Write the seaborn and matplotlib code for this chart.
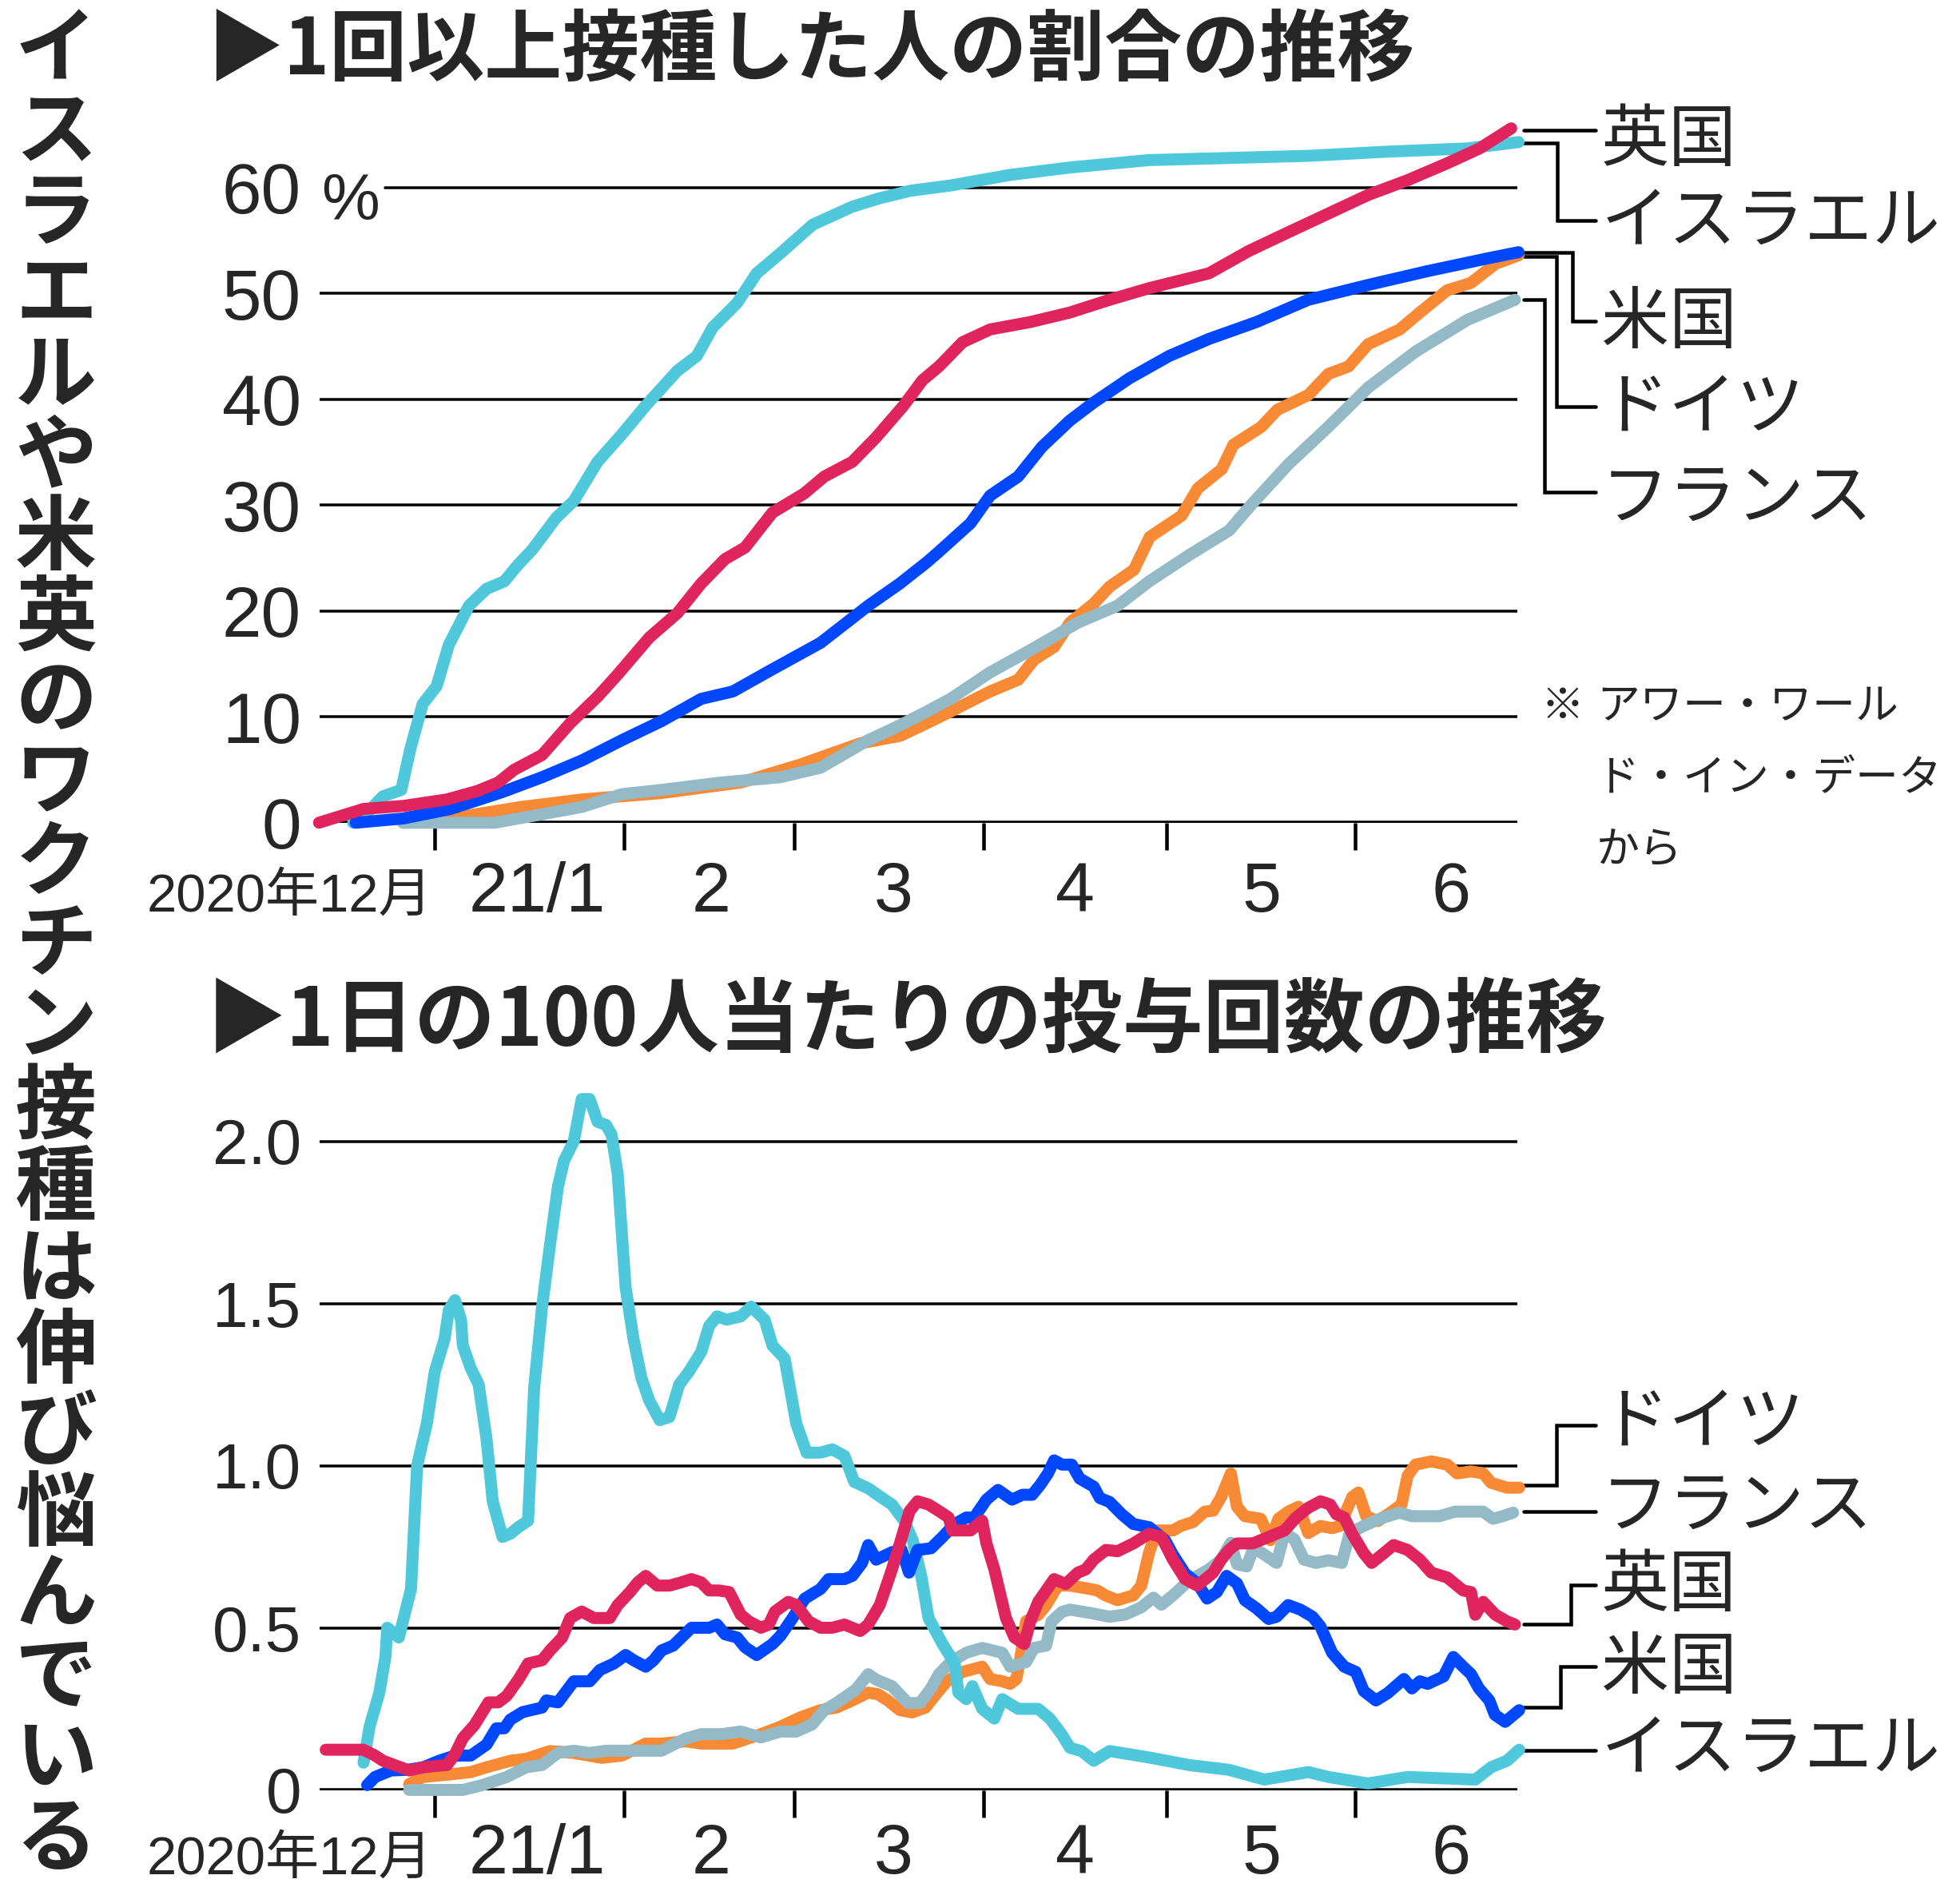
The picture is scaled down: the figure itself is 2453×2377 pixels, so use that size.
import matplotlib
matplotlib.use('Agg')
import matplotlib.pyplot as plt
import pandas as pd
import seaborn as sns

# ---------------- data (days since 2020-12-01) ----------------
# Panel 1: share of people with at least one dose (%)
ISR_TOP_DAY = [17.6, 20, 22.5, 25.5, 27, 29, 31.3, 33.3, 36.6, 39.5, 42.4, 44.7, 47, 50.9, 53.8, 57.7, 61.7,
               65.6, 70.8, 74, 76.6, 80.6, 83.8, 87.7, 93, 99.5, 104, 109, 115.6, 125.4, 135.2, 148.2, 161.3,
               174.3, 187.4, 200.4, 208.8]
ISR_TOP_VAL = [0, 1.0, 2.5, 3.1, 7, 11.2, 12.9, 16.8, 20.5, 22.1, 22.8, 24.4, 25.8, 28.8, 30.4, 34.1, 36.7,
               39.4, 42.7, 44.1, 46.8, 49.1, 51.9, 53.8, 56.5, 58.2, 59.0, 59.7, 60.2, 61.2, 61.9, 62.6, 62.8,
               63.0, 63.4, 63.7, 64.3]
UK_TOP_DAY = [12, 19.3, 26, 33, 38, 41.4, 44, 48.6, 53.2, 57.7, 61, 66.2, 70.8, 74.7, 78.6, 81.9, 86.4, 91.6,
              94.9, 99.5, 103.4, 107.9, 111, 113.7, 117.6, 122.1, 128.7, 135.2, 141.7, 148.2, 158, 164.5, 171.1,
              176.3, 184.1, 190.6, 197.1, 202.4, 207.6]
UK_TOP_VAL = [0, 1.3, 1.6, 2.2, 3.0, 3.8, 5.0, 6.4, 9.4, 11.9, 14.0, 17.5, 19.8, 22.6, 24.9, 26.0, 29.3, 31.1,
              32.7, 34.1, 36.4, 39.4, 41.8, 43.1, 45.4, 46.6, 47.3, 48.2, 49.4, 50.5, 51.9, 54.0, 55.8,
              57.2, 59.3, 60.7, 62.3, 63.7, 65.6]
US_TOP_DAY = [18, 25.8, 33.6, 42.1, 48.6, 55.2, 61.7, 68.2, 74.7, 79.9, 86.4, 94.3, 102.1, 107.3, 111.7, 113.7,
              118.9, 122.1, 126.7, 130.6, 135.2, 139.1, 145, 151.5, 158, 165.8, 174.3, 184.1, 193.8, 203.6, 208.8]
US_TOP_VAL = [0, 0.4, 1.3, 2.9, 4.3, 5.9, 7.8, 9.6, 11.7, 12.4, 14.5, 17.0, 20.5, 22.6, 24.6, 25.6,
              28.3, 30.9, 32.7, 35.5, 38.0, 39.7, 42.0, 44.1, 45.7, 47.3, 49.4, 50.8, 52.1, 53.3, 53.9]
DE_TOP_DAY = [25.8, 35.6, 45.3, 55.2, 68.2, 81.2, 91, 100.8, 107.3, 111, 115.6, 122.1, 126.7, 129.3, 132.6,
              135.2, 139.1, 141.7, 145.7, 148.3, 153.5, 156.2, 160.1, 162, 166.6, 169.2, 174.3, 177.6, 180.9,
              184.1, 189.3, 192.6, 197.1, 201, 205, 208.8]
DE_TOP_VAL = [0, 0.6, 1.5, 2.2, 2.8, 3.8, 5.5, 7.5, 8.2, 9.2, 10.5, 12.4, 13.5, 15.4, 16.6,
              18.9, 20.7, 22.3, 23.9, 27.0, 29.0, 31.6, 33.4, 35.7, 37.4, 39.0, 40.4, 42.4, 43.1,
              45.2, 46.6, 48.2, 50.3, 51.0, 52.8, 53.6]
FR_TOP_DAY = [25.8, 40.8, 48.6, 55.2, 61.7, 68.2, 78, 87.7, 94.3, 102.1, 107.3, 111.7, 115.6, 122.1, 128.7,
              136.5, 143, 148.2, 154.8, 161.3, 165.2, 171.1, 177.6, 184.1, 191.9, 200.4, 208.2]
FR_TOP_VAL = [0, 0, 0.8, 1.5, 2.7, 3.1, 3.8, 4.3, 5.2, 7.8, 9.2, 10.5, 11.7, 14.2, 16.3,
              18.9, 20.5, 22.8, 25.3, 27.6, 30.2, 33.9, 37.4, 41.1, 44.5, 47.5, 49.4]

# Panel 2: daily doses per 100 people
ISR_BOT_DAY = [19.3, 20.3, 21.9, 22.9, 23.2, 25.1, 27.1, 28.1, 29.7, 31, 32.6, 33.3, 34.3, 35.3, 35.6, 36.9,
               38.2, 39.5, 40.5, 42.1, 43.4, 44.7, 46.3, 47.3, 48.6, 49.9, 51.2, 52.2, 53.8, 55.1, 56.4, 57.7,
               59.1, 60, 61, 62.3, 63.6, 64.9, 66.2, 67.9, 69.5, 71.1, 72.7, 74.7, 76, 77.3, 78.9, 81.2, 82.9,
               85.1, 86.4, 88.4, 90.3, 92, 94.3, 96.2, 98.2, 99.8, 102.1, 104.4, 106, 108, 109.4, 110.8, 112,
               114.3, 116.3, 116.9, 118.2, 119.2, 120.8, 122.8, 124.1, 126.7, 130, 131.9, 133.9, 135.2, 137.1,
               139.1, 141.7, 145, 148.2, 154.7, 161.3, 167.1, 174.3, 177.6, 184.1, 190.6, 201.7, 204.3, 206.9,
               208.9]
ISR_BOT_VAL = [0.084, 0.195, 0.30, 0.41, 0.50, 0.47, 0.62, 1.0, 1.13, 1.29, 1.39, 1.48, 1.51, 1.45, 1.37, 1.30,
               1.25, 1.08, 0.89, 0.78, 0.79, 0.81, 0.83, 1.24, 1.49, 1.68, 1.86, 1.94, 2.0, 2.13, 2.13, 2.06,
               2.05, 2.02, 1.90, 1.55, 1.39, 1.27, 1.20, 1.14, 1.15, 1.25, 1.29, 1.35, 1.43, 1.46, 1.45, 1.46, 1.49,
               1.45, 1.37, 1.33, 1.13, 1.04, 1.04, 1.05, 1.03, 0.95, 0.93, 0.90, 0.88, 0.83, 0.77, 0.66, 0.53,
               0.45, 0.39, 0.30, 0.28, 0.32, 0.25, 0.22, 0.28, 0.25, 0.25, 0.22, 0.17, 0.13, 0.12,
               0.09, 0.12, 0.11, 0.10, 0.077, 0.062, 0.032, 0.055, 0.04, 0.02, 0.04, 0.032, 0.07, 0.09,
               0.124]
UK_BOT_DAY = [13.1, 19.3, 21.2, 22.5, 26.8, 29.1, 33, 34.3, 35.6, 37.5, 39.8, 41.4, 42.8, 44.7, 46.3, 48.6,
              49.9, 51.9, 53.2, 55.1, 57.1, 59.7, 61, 63, 64.3, 65.6, 67.5, 69.5, 71.4, 73.1, 74.7, 76, 77.6,
              79.3, 81.2, 82.5, 84.5, 85.8, 86.8, 89, 90.3, 92.3, 94.3, 96.2, 98.2, 99.5, 100.8, 102.1, 104,
              106, 107.3, 108.9, 110.2, 112, 113.7, 115.3, 115.9, 117.6, 118.9, 120.8, 121.5, 122.8, 124.7,
              126.1, 127.7, 128.7, 130, 131.3, 132.6, 134.5, 136.5, 137.8, 139.1, 141.1, 143, 145.6, 148.2,
              150.2, 152.1, 154.1, 156.1, 158.7, 160, 161.3, 162.6, 165.2, 167.8, 170.4, 172.3, 174.3, 176.3,
              177.9, 178.9, 180.2, 181.5, 183.4, 184.7, 186.7, 188.3, 190.6, 192.6, 194.5, 197.1, 199.7, 201,
              201.7, 203, 205, 206.9, 208.2]
UK_BOT_VAL = [0.124, 0.124, 0.106, 0.09, 0.06, 0.07, 0.077, 0.11, 0.16, 0.20, 0.27, 0.27, 0.29, 0.34, 0.39, 0.40,
              0.43, 0.47, 0.53, 0.55, 0.53, 0.53, 0.57, 0.61, 0.64, 0.66, 0.63, 0.63, 0.64, 0.65, 0.64, 0.615, 0.615,
              0.61, 0.54, 0.52, 0.50, 0.51, 0.55, 0.58, 0.57, 0.52, 0.50, 0.50, 0.51, 0.50, 0.49, 0.51, 0.57,
              0.68, 0.76, 0.86, 0.89, 0.88, 0.86, 0.84, 0.80, 0.80, 0.80, 0.83, 0.76, 0.68, 0.53,
              0.47, 0.45, 0.52, 0.58, 0.615, 0.65, 0.635, 0.67, 0.68, 0.71, 0.74, 0.736, 0.76, 0.79,
              0.78, 0.71, 0.65, 0.63, 0.67, 0.71, 0.74, 0.76, 0.76, 0.78, 0.80, 0.84, 0.87, 0.89,
              0.88, 0.85, 0.84, 0.79, 0.73, 0.70, 0.73, 0.755, 0.74, 0.71, 0.67, 0.655, 0.615, 0.61,
              0.54, 0.58, 0.54, 0.52, 0.51]
US_BOT_DAY = [19.9, 21.2, 23.8, 26.5, 29.1, 31.7, 34.3, 36.9, 39.5, 41.1, 42.4, 43.4, 45.4, 48.6, 49.3, 51.2,
              53.8, 56.4, 58.1, 60.4, 62.3, 63.6, 65.6, 66.9, 68.2, 70.1, 73.1, 76, 77.3, 78.6, 80.6, 81.9,
              83.8, 86.4, 87.7, 89.7, 91.7, 94.3, 95.6, 98.2, 99.5, 101.1, 102.1, 103.4, 106, 107.6, 108.8,
              110.2, 112.4, 114.3, 116.3, 118.2, 119.5, 121.5, 123.4, 125.7, 127.4, 129, 130.3, 131.6, 132.6,
              133.9, 135.5, 136.8, 139.1, 140.1, 141.7, 143.7, 145.6, 148.2, 150.8, 152.1, 154.1, 156.1, 157.7,
              159.3, 160.9, 162.6, 163.9, 165.8, 167.8, 169.1, 171, 173, 175, 176.3, 178.2, 180.2, 182.1,
              183.4, 185.4, 187.3, 190, 191.3, 192.6, 193.9, 196.5, 198.1, 199.7, 201, 202.3, 204, 204.9,
              206.6, 208.9]
US_BOT_VAL = [0.015, 0.04, 0.06, 0.062, 0.07, 0.09, 0.106, 0.106, 0.14, 0.19, 0.19, 0.217, 0.24, 0.254, 0.276, 0.27,
              0.335, 0.335, 0.37, 0.39, 0.416, 0.40, 0.38, 0.40, 0.43, 0.445, 0.50, 0.50, 0.51, 0.48, 0.47, 0.44,
              0.416, 0.45, 0.475, 0.53, 0.59, 0.62, 0.65, 0.65, 0.66, 0.70, 0.755, 0.71, 0.733, 0.74, 0.67,
              0.74, 0.745, 0.78, 0.82, 0.84, 0.84, 0.895, 0.925, 0.895, 0.91, 0.91, 0.94, 0.976, 1.016,
              1.003, 1.003, 0.96, 0.935, 0.90, 0.888, 0.85, 0.82, 0.81, 0.77, 0.725, 0.667, 0.637, 0.59,
              0.61, 0.66, 0.637, 0.585, 0.56, 0.527, 0.534, 0.57, 0.556, 0.534, 0.504, 0.423, 0.38, 0.364,
              0.305, 0.276, 0.298, 0.342, 0.313, 0.335, 0.327, 0.35, 0.41, 0.38, 0.357, 0.313, 0.276, 0.232,
              0.21, 0.246]
DE_BOT_DAY = [26.8, 29.1, 33, 36.9, 39.5, 43.4, 46, 49.9, 53.8, 58.4, 61.7, 65.6, 68.2, 72.1, 74.7, 79.9, 84.5,
              87.7, 91, 94.3, 96.9, 99.5, 102.1, 103.7, 105.3, 107.3, 109.3, 111.5, 113, 115, 117.6, 120.8,
              122.1, 124.1, 125.4, 126.4, 127, 128, 130, 131.3, 133.2, 135.2, 137.8, 139.7, 141, 143, 145.6,
              146.9, 148.2, 149.5, 152.1, 153.4, 155.4, 157.3, 158.7, 160, 161.3, 161.6, 162.6, 163.9, 166.5,
              168.1, 169.4, 171, 172.7, 174.3, 176.3, 178.2, 179.5, 181.5, 182.5, 183.8, 185.7, 188, 189.6,
              190.6, 191.9, 194.5, 197.1, 198.7, 201, 203, 204.3, 206.9, 208.9]
DE_BOT_VAL = [0.018, 0.04, 0.047, 0.055, 0.07, 0.09, 0.096, 0.12, 0.114, 0.099, 0.106, 0.143, 0.143, 0.15, 0.143,
              0.143, 0.172, 0.195, 0.224, 0.246, 0.254, 0.276, 0.30, 0.295, 0.276, 0.246, 0.239, 0.254, 0.29,
              0.335, 0.364, 0.38, 0.342, 0.335, 0.327, 0.342, 0.40, 0.52, 0.54, 0.57, 0.63, 0.63, 0.622, 0.615,
              0.60, 0.585, 0.60, 0.63, 0.733, 0.80, 0.80, 0.814, 0.826, 0.858, 0.861, 0.903, 0.962, 0.976,
              0.873, 0.844, 0.836, 0.77, 0.836, 0.858, 0.873, 0.792, 0.814, 0.807, 0.814, 0.903, 0.917,
              0.844, 0.829, 0.858, 0.88, 0.969, 1.003, 1.013, 1.003, 0.976, 0.982, 0.976, 0.947, 0.932, 0.932]
FR_BOT_DAY = [26.8, 35.6, 38.8, 42.8, 46, 48.6, 51.2, 53.8, 56.4, 59.1, 63, 68.2, 72.1, 74.7, 78, 81.2, 84.5,
              87.7, 90.3, 92.9, 94.9, 96.9, 100.1, 102.1, 103.4, 106, 108.6, 110.6, 112.4, 113.7, 115.6, 118.2,
              120.8, 124.1, 125.4, 128, 129.3, 131.3, 132.2, 133.9, 135.2, 138.4, 141.7, 144.3, 146.9, 148.9,
              150.2, 152.1, 154.7, 158, 160, 161.6, 162.6, 164.2, 165.2, 166.5, 169.1, 170.4, 172, 173.6,
              175.6, 177.6, 179.8, 181.1, 183.4, 186, 189.3, 191.3, 195.8, 198.4, 203, 204.6, 206.2, 207.9]
FR_BOT_VAL = [0, 0, 0.015, 0.04, 0.07, 0.077, 0.114, 0.121, 0.114, 0.121, 0.121, 0.121, 0.158, 0.172, 0.172, 0.18,
              0.162, 0.18, 0.18, 0.202, 0.246, 0.268, 0.31, 0.357, 0.34, 0.32, 0.268, 0.268, 0.313, 0.357, 0.394,
              0.423, 0.438, 0.423, 0.38, 0.394, 0.438, 0.445, 0.52, 0.549, 0.556, 0.546, 0.534, 0.541, 0.563,
              0.593, 0.571, 0.60, 0.645, 0.68, 0.71, 0.762, 0.696, 0.689, 0.74, 0.733, 0.70, 0.792, 0.773,
              0.71, 0.70, 0.708, 0.70, 0.792, 0.814, 0.836, 0.855, 0.844, 0.844, 0.858, 0.858, 0.836, 0.844,
              0.855]

COUNTRIES = ['英国', 'イスラエル', '米国', 'ドイツ', 'フランス']
COLORS = {'イスラエル': '#4EC8DA', '英国': '#E0245E', '米国': '#0048FF',
          'ドイツ': '#F98A35', 'フランス': '#94BAC8'}
ZORDER = {'ドイツ': 3, 'フランス': 4, 'イスラエル': 5, '米国': 6, '英国': 7}

TOP_SERIES = {'英国': (UK_TOP_DAY, UK_TOP_VAL), 'イスラエル': (ISR_TOP_DAY, ISR_TOP_VAL),
              '米国': (US_TOP_DAY, US_TOP_VAL), 'ドイツ': (DE_TOP_DAY, DE_TOP_VAL),
              'フランス': (FR_TOP_DAY, FR_TOP_VAL)}
BOT_SERIES = {'英国': (UK_BOT_DAY, UK_BOT_VAL), 'イスラエル': (ISR_BOT_DAY, ISR_BOT_VAL),
              '米国': (US_BOT_DAY, US_BOT_VAL), 'ドイツ': (DE_BOT_DAY, DE_BOT_VAL),
              'フランス': (FR_BOT_DAY, FR_BOT_VAL)}

MONTH_BOUNDS = [31, 62, 90, 121, 151, 182]
MONTH_LABEL_POS = [47.8, 76.3, 106.3, 136, 166.6, 197.7]
MONTH_LABELS = ['21/1', '2', '3', '4', '5', '6']
FIRST_MONTH_LABEL = '2020年12月'
TOP_YTICKS = [0, 10, 20, 30, 40, 50, 60]
TOP_YLABELS = ['0', '10', '20', '30', '40', '50', '60']
BOT_YTICKS = [0, 0.5, 1.0, 1.5, 2.0]
BOT_YLABELS = ['0', '0.5', '1.0', '1.5', '2.0']

MAIN_TITLE = 'イスラエルや米英のワクチン接種は伸び悩んでいる'
TOP_TITLE = '▶1回以上接種した人の割合の推移'
BOT_TITLE = '▶1日の100人当たりの投与回数の推移'
NOTE_LINES = ['アワー・ワール', 'ド・イン・データ', 'から']

# ---------------- style ----------------
sns.set_style('white')
CJK = ['Noto Sans CJK JP', 'DejaVu Sans']
NUM = ['Liberation Sans', 'Noto Sans CJK JP', 'DejaVu Sans']
plt.rcParams['font.family'] = CJK

W, H = 2453, 2377
fig = plt.figure(figsize=(W / 100, H / 100), dpi=100)
fig.patch.set_facecolor('white')


def P(px):  # pixels -> points at dpi 100
    return px * 0.72


XL = (12.1, 208.6)
ax1 = fig.add_axes([400 / W, 1 - 1029.8 / H, 1499 / W, (1029.8 - 148.7) / H])
ax2 = fig.add_axes([400 / W, 1 - 2240.5 / H, 1499 / W, (2240.5 - 1347.3) / H])

LINE_W = P(15)


def draw_panel(ax, series, ylim):
    for name in COUNTRIES:
        d, v = series[name]
        df = pd.DataFrame(list(zip(d, v)), columns=['day', 'val'])
        sns.lineplot(data=df, x='day', y='val', ax=ax, color=COLORS[name], linewidth=LINE_W,
                     estimator=None, sort=True, legend=False, zorder=ZORDER[name],
                     solid_capstyle='round', solid_joinstyle='round', clip_on=False)
    ax.set_xlim(*XL)
    ax.set_ylim(*ylim)
    ax.set_xlabel('')
    ax.set_ylabel('')
    for s in ax.spines.values():
        s.set_visible(False)
    ax.set_facecolor('none')
    ax.set_xticks(MONTH_BOUNDS)
    ax.set_xticklabels([])
    ax.tick_params(axis='x', which='major', bottom=True, direction='out', length=P(34),
                   width=P(4.5), color='black')
    ax.axhline(0, color='black', lw=P(5.5), zorder=2, solid_capstyle='butt')


# ---------- top panel ----------
draw_panel(ax1, TOP_SERIES, (0, 66.5))
for y in TOP_YTICKS[1:]:
    xmin = (482 - 400) / 1499 if y == 60 else 0
    ax1.axhline(y, xmin=xmin, color='black', lw=P(3.5), zorder=1)
ax1.set_yticks(TOP_YTICKS)
ax1.set_yticklabels(TOP_YLABELS, fontsize=P(89), family=NUM)
ax1.tick_params(axis='y', length=0, pad=P(23), left=False)
ax1.text(XL[0] + 0.3, 57.0, '%', ha='left', va='baseline', fontsize=P(82), family=NUM)
ax1.text(30.6, -8.4, FIRST_MONTH_LABEL, ha='right', va='baseline', fontsize=P(67), family=NUM, clip_on=False)
for xp, lab in zip(MONTH_LABEL_POS, MONTH_LABELS):
    ax1.text(xp, -8.4, lab, ha='center', va='baseline', fontsize=P(88), family=NUM, clip_on=False)

# ---------- bottom panel ----------
draw_panel(ax2, BOT_SERIES, (0, 2.2))
for y in BOT_YTICKS[1:]:
    ax2.axhline(y, color='black', lw=P(3.5), zorder=1)
ax2.set_yticks(BOT_YTICKS)
ax2.set_yticklabels(BOT_YLABELS, fontsize=P(80), family=NUM)
ax2.tick_params(axis='y', length=0, pad=P(23), left=False)
ax2.text(30.6, -0.258, FIRST_MONTH_LABEL, ha='right', va='baseline', fontsize=P(67), family=NUM, clip_on=False)
for xp, lab in zip(MONTH_LABEL_POS, MONTH_LABELS):
    ax2.text(xp, -0.258, lab, ha='center', va='baseline', fontsize=P(88), family=NUM, clip_on=False)

# ---------- leader lines and labels ----------
LX0, LX1, TX = 209.6, 221.4, 222.3
LAB_FS = P(85)
LW_LEAD = P(4.5)


def leader(ax, y0, xe, y1, label, ty):
    if xe is None:
        ax.plot([LX0, LX1], [y0, y0], color='black', lw=LW_LEAD, clip_on=False)
    else:
        ax.plot([LX0, xe, xe, LX1], [y0, y0, y1, y1], color='black', lw=LW_LEAD, clip_on=False,
                solid_joinstyle='miter')
    ax.text(TX, ty, label, ha='left', va='center', fontsize=LAB_FS, clip_on=False)


leader(ax1, 65.4, None, None, '英国', 64.4)
leader(ax1, 64.2, 215.1, 56.9, 'イスラエル', 56.7)
leader(ax1, 53.9, 217.6, 47.4, '米国', 47.2)
leader(ax1, 53.5, 215.0, 39.3, 'ドイツ', 39.1)
leader(ax1, 49.4, 213.0, 31.2, 'フランス', 30.6)

leader(ax2, 0.94, 215.0, 1.125, 'ドイツ', 1.13)
leader(ax2, 0.858, None, None, 'フランス', 0.873)
leader(ax2, 0.51, 217.4, 0.632, '英国', 0.627)
leader(ax2, 0.255, 215.7, 0.38, '米国', 0.373)
leader(ax2, 0.122, None, None, 'イスラエル', 0.122)

# ---------- titles ----------
fig.text(258 / W, 1 - 65 / H, TOP_TITLE, ha='left', va='center', fontsize=P(97), weight='bold')
fig.text(258 / W, 1 - 1279 / H, BOT_TITLE, ha='left', va='center', fontsize=P(101), weight='bold')

for i, ch in enumerate(MAIN_TITLE):
    fig.text(70 / W, 1 - (64 + 101.8 * i) / H, ch, ha='center', va='center',
             fontsize=P(102), weight='bold')

# ---------- note ----------
fig.text(1929 / W, 1 - 885 / H, '※', ha='left', va='center', fontsize=P(54))
for j, line in enumerate(NOTE_LINES):
    fig.text(1998 / W, 1 - (885 + 90 * j) / H, line, ha='left', va='center', fontsize=P(54))

fig.savefig('out.png', dpi=100, facecolor='white')
